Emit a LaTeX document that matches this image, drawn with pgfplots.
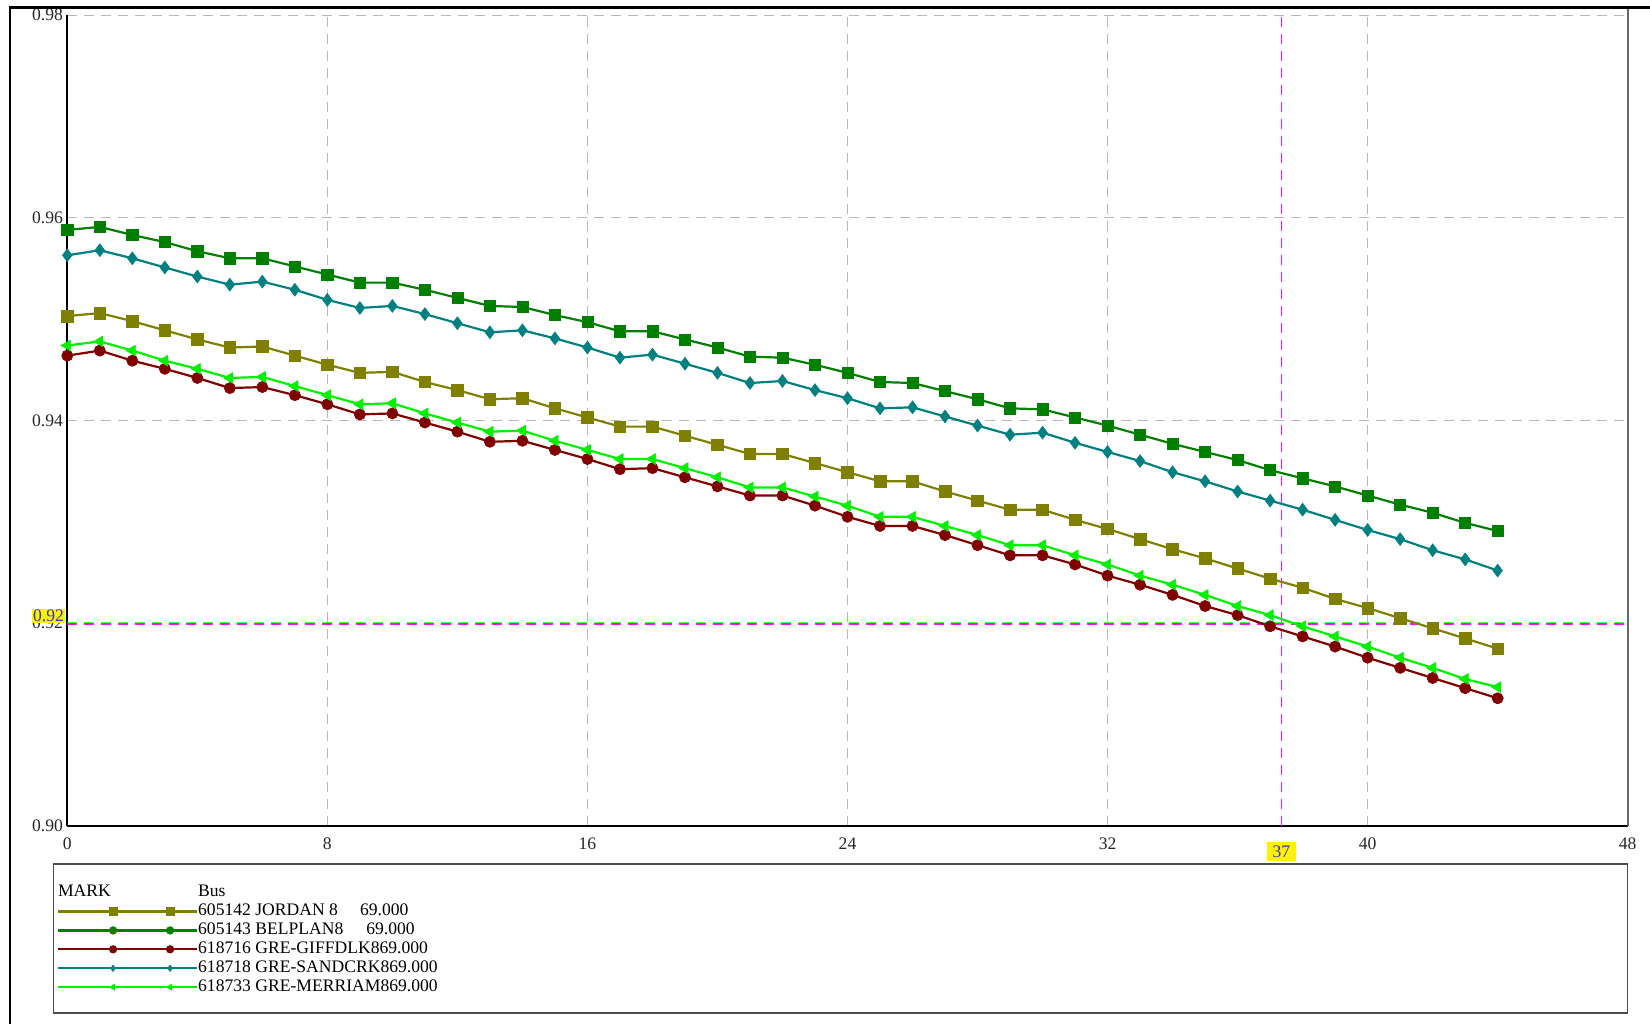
\documentclass[border=0pt]{standalone}
\usepackage{fontspec}
\setmainfont{Liberation Serif}
\usepackage{pgfplots}
\usepackage{pgfplotstable}
\pgfplotsset{compat=1.18}
\definecolor{olivec}{HTML}{808000}
\definecolor{darkg}{HTML}{007F00}
\definecolor{darkr}{HTML}{800000}
\definecolor{tealc}{HTML}{008080}
\definecolor{limec}{HTML}{00F000}
\definecolor{magc}{HTML}{FF10FF}
\definecolor{gridc}{HTML}{B8B8B8}
\definecolor{lblc}{HTML}{3535C8}

\pgfplotstableread{
x jordan belplan giff sand merr
0  0.9503 0.9588 0.9464 0.9563 0.9474
1  0.9506 0.9591 0.9469 0.9568 0.9478
2  0.9498 0.9583 0.9459 0.9560 0.9469
3  0.9489 0.9576 0.9451 0.9551 0.9459
4  0.9480 0.9567 0.9442 0.9542 0.9451
5  0.9472 0.9560 0.9432 0.9534 0.9442
6  0.9473 0.9560 0.9433 0.9537 0.9443
7  0.9464 0.9552 0.9425 0.9529 0.9434
8  0.9455 0.9544 0.9416 0.9519 0.9425
9  0.9447 0.9536 0.9406 0.9511 0.9416
10 0.9448 0.9536 0.9407 0.9513 0.9417
11 0.9438 0.9529 0.9398 0.9505 0.9407
12 0.9430 0.9521 0.9389 0.9496 0.9398
13 0.9421 0.9513 0.9379 0.9487 0.9389
14 0.9422 0.9512 0.9380 0.9489 0.9390
15 0.9412 0.9504 0.9371 0.9481 0.9380
16 0.9403 0.9497 0.9362 0.9472 0.9371
17 0.9394 0.9488 0.9352 0.9462 0.9362
18 0.9394 0.9488 0.9353 0.9465 0.9362
19 0.9385 0.9480 0.9344 0.9456 0.9353
20 0.9376 0.9472 0.9335 0.9447 0.9344
21 0.9367 0.9463 0.9326 0.9437 0.9334
22 0.9367 0.9462 0.9326 0.9439 0.9334
23 0.9358 0.9455 0.9316 0.9430 0.9325
24 0.9349 0.9447 0.9305 0.9422 0.9316
25 0.9340 0.9438 0.9296 0.9412 0.9305
26 0.9340 0.9437 0.9296 0.9413 0.9305
27 0.9330 0.9429 0.9287 0.9404 0.9296
28 0.9321 0.9421 0.9277 0.9395 0.9287
29 0.9312 0.9412 0.9267 0.9386 0.9277
30 0.9312 0.9411 0.9267 0.9388 0.9277
31 0.9302 0.9403 0.9258 0.9378 0.9267
32 0.9293 0.9395 0.9247 0.9369 0.9258
33 0.9283 0.9386 0.9238 0.9360 0.9247
34 0.9273 0.9377 0.9228 0.9349 0.9238
35 0.9264 0.9369 0.9217 0.9340 0.9228
36 0.9254 0.9361 0.9208 0.9330 0.9217
37 0.9244 0.9351 0.9197 0.9321 0.9208
38 0.9235 0.9343 0.9187 0.9312 0.9197
39 0.9224 0.9335 0.9177 0.9302 0.9187
40 0.9215 0.9326 0.9166 0.9292 0.9177
41 0.9205 0.9317 0.9156 0.9283 0.9166
42 0.9195 0.9309 0.9146 0.9272 0.9156
43 0.9185 0.9299 0.9136 0.9263 0.9145
44 0.9175 0.9291 0.9126 0.9252 0.9137
}\datatable

\pgfplotsset{
  legimg/.style={legend image code/.code={\draw[##1,mark size=#1,mark indices={2,3}] plot coordinates {(0pt,0pt) (27.5pt,0pt) (56pt,0pt) (69.5pt,0pt)};}},
  legimgc/.style={legend image code/.code={\draw[##1,mark=*,mark size=#1,mark indices={2,3}] plot coordinates {(0pt,0pt) (27.5pt,0pt) (56pt,0pt) (69.5pt,0pt)};}},
}

\begin{document}
\begin{tikzpicture}[font=\fontsize{8.8}{10}\selectfont]
\useasboundingbox (0,0) rectangle (825pt,-512pt);
\begin{axis}[
  at={(33.65pt,-413pt)}, anchor=south west,
  scale only axis, width=780.2pt, height=405.5pt,
  xmin=0, xmax=48, ymin=0.90, ymax=0.98,
  xtick={0,8,16,24,32,40,48},
  ytick={0.90,0.92,0.94,0.96,0.98},
  major tick length=0pt,
  grid=major,
  major grid style={gridc, dash pattern=on 5pt off 3.5pt, line width=0.5pt},
  axis x line*=bottom, axis y line*=left,
  axis line style={-, black, line width=0.8pt},
  /pgf/number format/assume math mode=true,
  y tick label style={/pgf/number format/.cd, fixed, fixed zerofill, precision=2, /tikz/.cd, anchor=east, inner sep=0pt, xshift=-2pt},
  x tick label style={anchor=north, inner sep=0pt, yshift=-5.5pt},
  ticklabel style={font=\fontsize{8.8}{10}\selectfont, text=black!85},
  clip mode=individual,
  legend style={at={(-0.0066,-0.0732)}, anchor=north west, draw=none, fill=none,
    inner sep=0pt, outer sep=0pt, row sep=2.1pt, column sep=0pt,
    nodes={inner sep=0pt}, font=\fontsize{8.8}{10}\selectfont},
  legend cell align=left,
]
\addlegendimage{legend image code/.code={\path[draw=none] (0pt,0pt) -- (69.5pt,0pt); \node[anchor=west,inner sep=0pt,draw=none] at (0pt,0pt) {MARK};}}
\addlegendentry{Bus}

\addplot[forget plot, green!70!white, line width=0.5pt, dash pattern=on 5pt off 3.5pt] coordinates {(0,0.92005) (48,0.92005)};
\addplot[forget plot, magc, line width=0.9pt, dash pattern=on 5pt off 3.5pt] coordinates {(0,0.9199) (48,0.9199)};
\addplot[forget plot, magc, line width=0.9pt, dash pattern=on 5pt off 3.5pt] coordinates {(37.35,0.90) (37.35,0.98)};

\addplot[olivec, line width=1.1pt, mark=square*, mark size=2.9pt, mark options={line width=0.3pt}, legimg=2pt] table[x=x,y=jordan]{\datatable};
\addlegendentry{605142 JORDAN 8\hspace{11pt}69.000}
\addplot[darkg, line width=1.1pt, mark=square*, mark size=2.8pt, mark options={line width=0.3pt}, legimgc=1.9pt] table[x=x,y=belplan]{\datatable};
\addlegendentry{605143 BELPLAN8\hspace{11.5pt}69.000}
\addplot[darkr, line width=1.1pt, mark=*, mark size=2.8pt, mark options={line width=0.3pt}, legimg=1.9pt] table[x=x,y=giff]{\datatable};
\addlegendentry{618716 GRE-GIFFDLK869.000}
\addplot[tealc, line width=1.1pt, mark=diamond*, mark size=3.2pt, mark options={line width=0.3pt}, legimg=1.6pt] table[x=x,y=sand]{\datatable};
\addlegendentry{618718 GRE-SANDCRK869.000}
\addplot[limec, line width=1.1pt, mark=triangle*, mark size=3.1pt, mark options={line width=0.3pt, rotate=90}, legimg=1.8pt] table[x=x,y=merr]{\datatable};
\addlegendentry{618733 GRE-MERRIAM869.000}

\node[fill=yellow, text=lblc, inner sep=0.5pt, anchor=south east, font=\fontsize{8.8}{10}\selectfont] at (axis cs:0,0.92) [xshift=-1pt] {0.92};
\node[fill=yellow, text=lblc, inner xsep=3pt, inner ysep=1.8pt, anchor=north, font=\fontsize{8.8}{10}\selectfont] at (axis cs:37.35,0.90) [yshift=-8pt] {37};
\end{axis}
\draw[magc, line width=0.9pt, dash pattern=on 5pt off 3.5pt] (33.65pt,0pt) ++(0,0) coordinate (dummy);
\draw[black!60, line width=1.2pt] (813.85pt,-413pt) -- (813.85pt,-3.75pt);
\draw[black!70, line width=0.7pt] (26.6pt,-432pt) rectangle (813.85pt,-506.5pt);
\draw[black, line width=1.3pt] (5pt,-512pt) -- (5pt,-3.75pt) -- (825pt,-3.75pt);
\end{tikzpicture}
\end{document}
